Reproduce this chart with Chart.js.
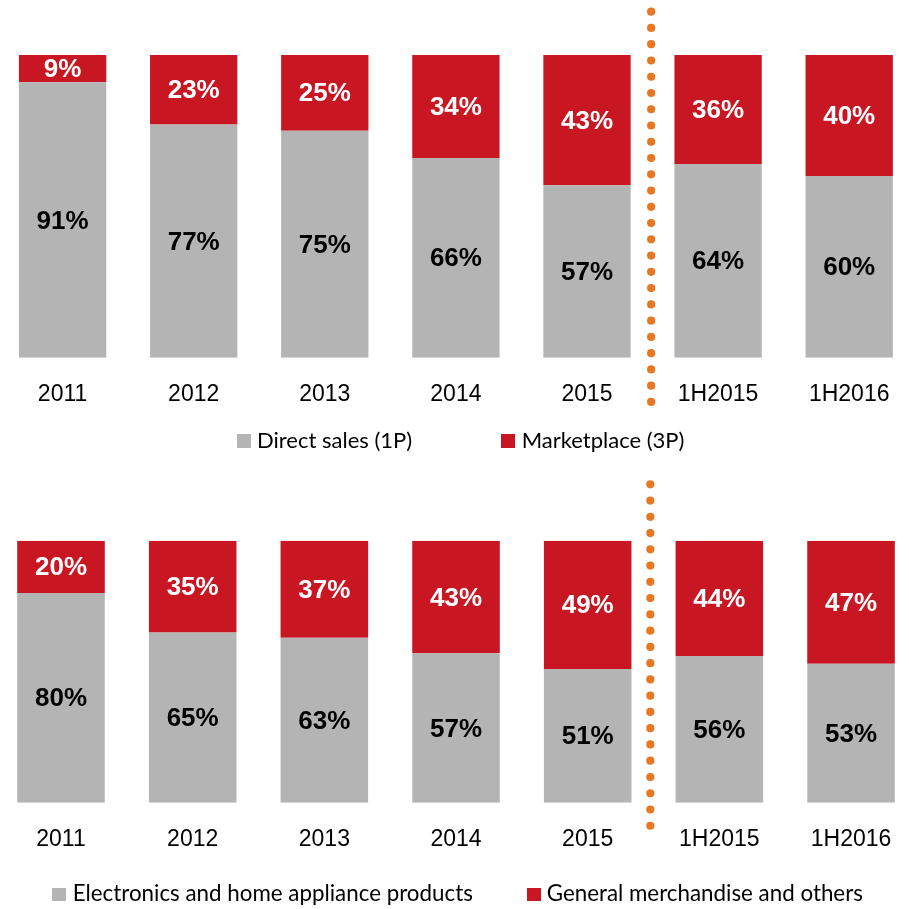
<!DOCTYPE html>
<html><head><meta charset="utf-8">
<script src="https://cdn.jsdelivr.net/npm/chart.js@4/dist/chart.umd.min.js"></script>
<style>
html,body{margin:0;padding:0;background:#fff;overflow:hidden;width:909px;height:909px;position:relative;}
.wrap{position:absolute;}
.lg{position:absolute;font-family:Lato,"Open Sans",sans-serif;font-size:22px;line-height:26.4px;color:#000;white-space:nowrap;}
.bx{position:absolute;width:13.4px;height:13.4px;}
#legend2 .lg{font-size:22.35px;}
</style></head>
<body>
<div id="w1" class="wrap" style="left:-10px;top:0;width:930px;height:430px"><canvas id="chart1"></canvas></div>
<div id="w2" class="wrap" style="left:-10px;top:460px;width:935px;height:420px"><canvas id="chart2"></canvas></div>
<div id="legend1"></div>
<div id="legend2"></div>
<script>
// ---- data ----
const categories = ['2011','2012','2013','2014','2015','1H2015','1H2016'];
const directSales = [91,77,75,66,57,64,60];
const marketplace = [9,23,25,34,43,36,40];
const electronics = [80,65,63,57,51,56,53];
const generalMerch = [20,35,37,43,49,44,47];
const seriesNames1 = ['Direct sales (1P)','Marketplace (3P)'];
const seriesNames2 = ['Electronics and home appliance products','General merchandise and others'];
const dividerAfter = '2015';

// ---- style ----
const GRAY = '#B4B4B4', RED = '#C81622', ORANGE = '#E87722';
const TICK_FONT = {family:'"Liberation Sans", Arial, sans-serif', size:23};

const segLabels = {
  id:'segLabels',
  afterDatasetsDraw(chart){
    const ctx = chart.ctx;
    ctx.save();
    ctx.font = 'bold 26px "Liberation Sans", Arial, sans-serif';
    ctx.textAlign='center'; ctx.textBaseline='middle';
    chart.data.datasets.forEach((ds,di)=>{
      const meta = chart.getDatasetMeta(di);
      meta.data.forEach((bar,i)=>{
        ctx.fillStyle = ds.labelColor;
        ctx.fillText(ds.data[i]+'%', bar.x, (bar.y+bar.base)/2 + 1.4);
      });
    });
    ctx.restore();
  }
};
const divider = {
  id:'divider',
  afterDraw(chart, args, opts){
    const xs = chart.scales.x;
    const idx = categories.indexOf(dividerAfter);
    const px = (xs.getPixelForValue(idx) + xs.getPixelForValue(idx+1))/2 + opts.dx;
    const ctx = chart.ctx;
    ctx.save();
    ctx.strokeStyle = ORANGE; ctx.lineWidth = 8.2; ctx.lineCap='round';
    ctx.setLineDash([0, opts.gap]);
    ctx.beginPath();
    ctx.moveTo(px, chart.chartArea.top - opts.above);
    ctx.lineTo(px, chart.chartArea.bottom + opts.below);
    ctx.stroke();
    ctx.restore();
  }
};

function makeChart(id, lowVals, highVals, names, cfg){
  return new Chart(document.getElementById(id), {
    type:'bar',
    data:{
      labels: categories,
      datasets:[
        {label:names[0], data:lowVals, backgroundColor:GRAY, labelColor:'#000', barPercentage:cfg.barPct, categoryPercentage:1},
        {label:names[1], data:highVals, backgroundColor:RED, labelColor:'#fff', barPercentage:cfg.barPct, categoryPercentage:1}
      ]
    },
    options:{
      responsive:true, maintainAspectRatio:false, animation:false,
      layout:{padding:{top:cfg.padTop, left:cfg.padLeft, right:cfg.padRight, bottom:0}},
      plugins:{legend:{display:false}, tooltip:{enabled:false},
        divider:{gap:16.26, above:cfg.above, below:cfg.below, dx:cfg.dx}},
      scales:{
        x:{stacked:true, grid:{display:false, drawTicks:false}, border:{display:false},
           ticks:{color:'#000', font:TICK_FONT, padding:23, maxRotation:0, autoSkip:false},
           afterFit(s){ s.height = cfg.axisH; }},
        y:{stacked:true, display:false, min:0, max:100}
      }
    },
    plugins:[segLabels, divider]
  });
}

makeChart('chart1', directSales, marketplace, seriesNames1,
  {barPct:0.666, padTop:55, padLeft:7.05, padRight:5.25, axisH:72.3, above:43.3, below:44.6, dx:-1.4});
makeChart('chart2', electronics, generalMerch, seriesNames2,
  {barPct:0.665, padTop:80.7, padLeft:5.17, padRight:8.13, axisH:77.3, above:56.4, below:23.3, dx:-3.2});

function makeLegend(id, names, pos){
  const el = document.getElementById(id);
  const colors = [GRAY, RED];
  names.forEach((n,i)=>{
    const b = document.createElement('div');
    b.className='bx'; b.style.background=colors[i];
    b.style.left = pos.box[i]+'px'; b.style.top = pos.boxTop+'px';
    el.appendChild(b);
    const t = document.createElement('div');
    t.className='lg'; t.textContent=n;
    t.style.left = pos.txt[i]+'px'; t.style.top = pos.txtTop+'px';
    el.appendChild(t);
  });
}
makeLegend('legend1', seriesNames1, {box:[237.3,501.3], txt:[257,521.7], boxTop:434.3, txtTop:426.5});
makeLegend('legend2', seriesNames2, {box:[52.3,527.3], txt:[72.7,546.7], boxTop:887.7, txtTop:880});
</script>
</body></html>
